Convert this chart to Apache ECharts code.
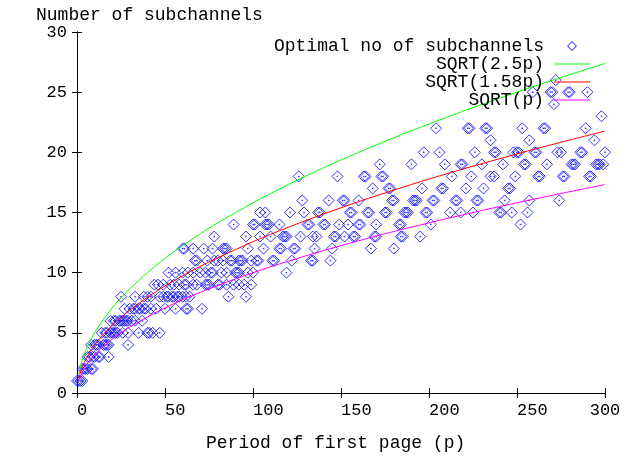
<!DOCTYPE html>
<html>
<head>
<meta charset="utf-8">
<script src="https://cdn.jsdelivr.net/npm/echarts@6/dist/echarts.min.js"></script>
<style>
html,body{margin:0;padding:0;background:#fff;}
#chart{width:628px;height:456px;}
</style>
</head>
<body>
<div id="chart"></div>
<script>
// Optimal number of subchannels: period p and count n (parallel arrays)
var optimalP = [
  0,1,2,3,
  3,4,5,6,8,9,
  6,7,9,10,12,13,18,
  8,10,11,12,15,16,17,18,29,
  14,16,17,19,20,21,22,23,26,29,35,40,41,43,47,
  19,21,22,24,25,26,27,28,29,31,33,37,
  27,30,32,33,35,36,38,39,42,45,50,56,62,63,71,
  25,33,38,40,42,47,49,51,52,54,55,57,58,60,62,64,86,96,
  44,46,49,53,55,58,61,62,66,68,73,74,75,80,81,85,89,92,95,99,
  52,56,60,63,66,70,73,76,77,82,85,90,91,92,97,100,119,
  67,68,74,78,80,83,87,88,92,93,94,99,102,103,111,112,122,133,134,144,
  60,61,66,72,77,83,84,85,97,106,115,116,123,124,135,145,167,180,
  78,96,104,110,117,118,119,127,134,136,146,147,152,157,158,169,170,184,185,195,
  89,100,101,107,108,109,115,131,132,140,141,149,154,160,161,170,183,184,201,252,
  104,107,121,129,137,138,155,156,165,166,175,176,186,187,188,198,199,212,218,225,240,241,247,256,
  128,143,151,152,160,179,180,191,192,193,202,203,215,216,227,228,243,257,274,
  168,177,178,196,207,208,221,231,245,246,
  126,148,163,164,173,174,213,224,235,237,249,262,263,276,277,291,292,
  172,190,209,218,219,230,242,254,255,267,281,282,283,295,296,297,299,
  197,206,226,237,238,248,250,251,260,261,273,275,286,287,300,
  235,257,294,
  204,222,223,232,233,253,265,266,289,
  298,
  271,
  259,269,270,279,280,290,
  272
];
var optimalN = [
  1,1,1,1,
  2,2,2,2,2,2,
  3,3,3,3,3,3,3,
  4,4,4,4,4,4,4,4,4,
  5,5,5,5,5,5,5,5,5,5,5,5,5,5,5,
  6,6,6,6,6,6,6,6,6,6,6,6,
  7,7,7,7,7,7,7,7,7,7,7,7,7,7,7,
  8,8,8,8,8,8,8,8,8,8,8,8,8,8,8,8,8,8,
  9,9,9,9,9,9,9,9,9,9,9,9,9,9,9,9,9,9,9,9,
  10,10,10,10,10,10,10,10,10,10,10,10,10,10,10,10,10,
  11,11,11,11,11,11,11,11,11,11,11,11,11,11,11,11,11,11,11,11,
  12,12,12,12,12,12,12,12,12,12,12,12,12,12,12,12,12,12,
  13,13,13,13,13,13,13,13,13,13,13,13,13,13,13,13,13,13,13,13,
  14,14,14,14,14,14,14,14,14,14,14,14,14,14,14,14,14,14,14,14,
  15,15,15,15,15,15,15,15,15,15,15,15,15,15,15,15,15,15,15,15,15,15,15,15,
  16,16,16,16,16,16,16,16,16,16,16,16,16,16,16,16,16,16,16,
  17,17,17,17,17,17,17,17,17,17,
  18,18,18,18,18,18,18,18,18,18,18,18,18,18,18,18,18,
  19,19,19,19,19,19,19,19,19,19,19,19,19,19,19,19,19,
  20,20,20,20,20,20,20,20,20,20,20,20,20,20,20,
  21,21,21,
  22,22,22,22,22,22,22,22,22,
  23,
  24,
  25,25,25,25,25,25,
  26
];
// Reference curves, values
var curveP      = [1,2,3,4,5,6,8,10,12,15,20,25,30,40,50,60,70,80,100,120,140,160,180,200,225,250,275,300];
var sqrt25p     = [1.58,2.24,2.74,3.16,3.54,3.87,4.47,5.00,5.48,6.12,7.07,7.91,8.66,10.00,11.18,12.25,13.23,14.14,15.81,17.32,18.71,20.00,21.21,22.36,23.72,25.00,26.22,27.39];
var sqrt158p    = [1.26,1.78,2.18,2.51,2.81,3.08,3.56,3.97,4.35,4.87,5.62,6.28,6.88,7.95,8.89,9.74,10.52,11.24,12.57,13.77,14.87,15.90,16.86,17.78,18.85,19.87,20.84,21.77];
var sqrtp       = [1.00,1.41,1.73,2.00,2.24,2.45,2.83,3.16,3.46,3.87,4.47,5.00,5.48,6.32,7.07,7.75,8.37,8.94,10.00,10.95,11.83,12.65,13.42,14.14,15.00,15.81,16.58,17.32];
var seriesNames = ['Optimal no of subchannels','SQRT(2.5p)','SQRT(1.58p)','SQRT(p)'];
var xTicks = [0,50,100,150,200,250,300];
var yTicks = [0,5,10,15,20,25,30];
var xTitle = 'Period of first page (p)';
var yTitle = 'Number of subchannels';

var FONT = 'Liberation Mono';
var pts = optimalP.map(function(p,i){return [p, optimalN[i]];});
function zip(xs, ys){return xs.map(function(x,i){return [x, ys[i]];});}

var chart = echarts.init(document.getElementById('chart'), null, {renderer:'canvas'});
var axisLine = {show:true, lineStyle:{color:'#000', width:1}};
var tick = {show:true, inside:true, length:5, lineStyle:{color:'#000'}};
var lineIcon = 'path://M0,0H36V1H0Z';
var diamondIcon = 'path://M5,0L10,5L5,10L0,5ZM5,1.2L1.2,5L5,8.8L8.8,5Z';
chart.setOption({
  animation:false,
  backgroundColor:'#fff',
  grid:{left:77, right:23, top:32, bottom:63, containLabel:false, outerBoundsMode:'none'},
  xAxis:[
    {type:'value', min:xTicks[0], max:xTicks[xTicks.length-1], interval:50, position:'bottom',
     axisLine:axisLine, axisTick:tick, splitLine:{show:false},
     axisLabel:{show:true, align:'left', alignMaxLabel:'center', margin:9, color:'#000', fontFamily:FONT, fontSize:17}},
    {type:'value', min:xTicks[0], max:xTicks[xTicks.length-1], interval:50, position:'top',
     axisLine:axisLine, axisTick:tick, splitLine:{show:false}, axisLabel:{show:false}}
  ],
  yAxis:[
    {type:'value', min:yTicks[0], max:yTicks[yTicks.length-1], interval:5, position:'left',
     axisLine:axisLine, axisTick:tick, splitLine:{show:false},
     axisLabel:{show:true, margin:10, color:'#000', fontFamily:FONT, fontSize:17}},
    {type:'value', min:yTicks[0], max:yTicks[yTicks.length-1], interval:5, position:'right',
     axisLine:axisLine, axisTick:tick, splitLine:{show:false}, axisLabel:{show:false}}
  ],
  legend:{
    data:[
      {name:seriesNames[0], icon:diamondIcon, itemStyle:{color:'#0000ff', borderWidth:0}},
      {name:seriesNames[1], icon:lineIcon, itemStyle:{color:'#00ff00'}},
      {name:seriesNames[2], icon:lineIcon, itemStyle:{color:'#ff0000'}},
      {name:seriesNames[3], icon:lineIcon, itemStyle:{color:'#ff00ff'}}
    ],
    orient:'vertical', align:'right', right:33, top:32,
    itemWidth:36, itemHeight:10, itemGap:0, symbolKeepAspect:true,
    textStyle:{color:'#000', fontFamily:FONT, fontSize:18, lineHeight:18, padding:[0,5,0,0]},
    selectedMode:false
  },
  graphic:[
    {type:'text', left:36, top:6, style:{text:yTitle, fill:'#000', font:'18px "Liberation Mono"'}},
    {type:'text', left:206, top:434, style:{text:xTitle, fill:'#000', font:'18px "Liberation Mono"'}}
  ],
  series:[
    {name:seriesNames[0], type:'scatter', data:pts, symbol:'diamond', symbolSize:11,
     itemStyle:{color:'rgba(0,0,0,0)', borderColor:'#0000ff', borderWidth:1}, z:2},
    {name:'dots', type:'scatter', data:pts, symbol:'rect', symbolSize:1.5, silent:true,
     itemStyle:{color:'#0000ff'}, z:2},
    {name:seriesNames[1], type:'line', data:zip(curveP, sqrt25p), symbol:'none', smooth:0.3,
     lineStyle:{color:'#00ff00', width:1}, itemStyle:{color:'#00ff00'}, z:3},
    {name:seriesNames[2], type:'line', data:zip(curveP, sqrt158p), symbol:'none', smooth:0.3,
     lineStyle:{color:'#ff0000', width:1}, itemStyle:{color:'#ff0000'}, z:3},
    {name:seriesNames[3], type:'line', data:zip(curveP, sqrtp), symbol:'none', smooth:0.3,
     lineStyle:{color:'#ff00ff', width:1}, itemStyle:{color:'#ff00ff'}, z:3}
  ]
});
</script>
</body>
</html>
